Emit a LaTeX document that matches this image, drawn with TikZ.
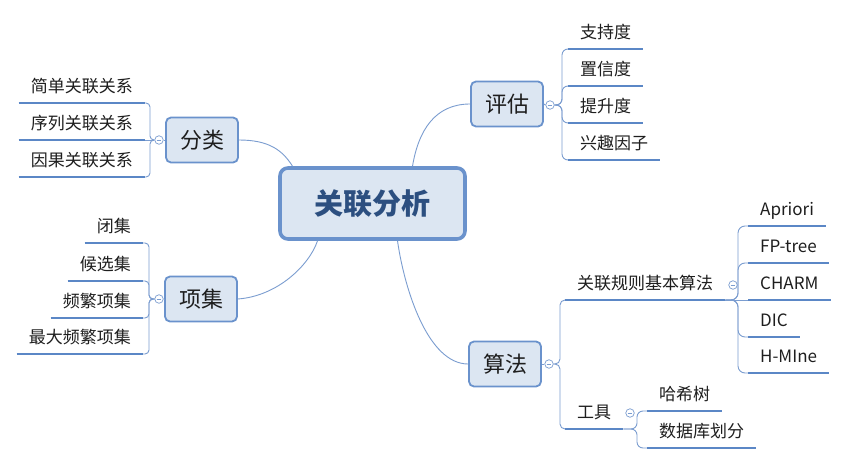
\documentclass[tikz,border=0pt]{standalone}
\usepackage{fontspec}
\setmainfont{Noto Sans CJK SC}
\usetikzlibrary{calc}
\definecolor{boxc}{HTML}{6A92CC}
\definecolor{fillc}{HTML}{DCE6F2}
\definecolor{ulc}{HTML}{5B87C6}
\definecolor{connc}{HTML}{7B9DD0}
\definecolor{txtc}{HTML}{1E1E1E}
\definecolor{ctrtxt}{HTML}{2C4F80}
\begin{document}
\begin{tikzpicture}[x=1pt,y=-1pt,
  ctrbox/.style={draw=boxc, line width=3.6pt, fill=fillc, rounded corners=8pt,
    minimum width=185pt, minimum height=71pt, inner sep=0pt, text=ctrtxt,
    font=\fontsize{29}{34}\selectfont\bfseries},
  mainbox/.style={draw=boxc, line width=1.8pt, fill=fillc, rounded corners=5pt,
    minimum width=72pt, minimum height=45pt, inner sep=0pt, text=txtc,
    font=\fontsize{22}{26}\selectfont},
  leaf/.style={inner xsep=12pt, inner ysep=0pt, text height=12pt, text depth=10.5pt,
    text=txtc, font=\fontsize{17}{20}\selectfont},
  uline/.style={draw=ulc, line width=2.6pt},
  conn/.style={draw=connc, line width=0.9pt},
  collapse/.style={circle, draw=connc, fill=white, line width=0.7pt, minimum size=8.5pt,
    inner sep=0pt, path picture={\draw[connc, line width=0.6pt]
      ([xshift=-2.3pt]path picture bounding box.center) -- ([xshift=2.3pt]path picture bounding box.center);}}
]
\useasboundingbox (0,0) rectangle (853,465);
\fill[white] (0,0) rectangle (853,465);

% centre and main nodes
\node[ctrbox] (ctr) at (372.5,203.5) {关联分析};
\node[mainbox] (pg) at (507,104) {评估};
\node[mainbox] (fl) at (202,140) {分类};
\node[mainbox] (xj) at (201,299) {项集};
\node[mainbox] (sf) at (505,364) {算法};

% main connectors (xshift/yshift are in page direction: +y is up)
\draw[conn] (pg.west) .. controls +(-35,0) and ([xshift=46,yshift=36]ctr.north) .. ([xshift=40]ctr.north);
\draw[conn] (fl.east) .. controls +(30,0) and ([xshift=-90,yshift=16]ctr.north) .. ([xshift=-80]ctr.north);
\draw[conn] (xj.east) .. controls +(40,-3) and ([xshift=-63,yshift=-24]ctr.south) .. ([xshift=-55]ctr.south);
\draw[conn] (sf.west) .. controls +(-40,0) and ([xshift=32,yshift=-49]ctr.south) .. ([xshift=25]ctr.south);

% collapse markers
\node[collapse] (cpg) at (550,105) {};
\node[collapse] (cfl) at (159,140) {};
\node[collapse] (cxj) at (159,299) {};
\node[collapse] (csf) at (549,364) {};
\draw[conn] (pg.east) -- (cpg.west);
\draw[conn] (fl.west) -- (cfl.east);
\draw[conn] (xj.west) -- (cxj.east);
\draw[conn] (sf.east) -- (csf.west);

% 评估 leaves
\node[leaf, anchor=south west] (a1) at (568,49) {支持度};
\node[leaf, anchor=south west] (a2) at (568,86) {置信度};
\node[leaf, anchor=south west] (a3) at (568,123) {提升度};
\node[leaf, anchor=south west] (a4) at (568,160) {兴趣因子};
\foreach \l in {a1,a2,a3,a4}{
  \draw[uline] (\l.south west) -- (\l.south east);
  \draw[conn, rounded corners=6pt] (cpg.east) -| ($(\l.south west)+(-6,0)$) -- (\l.south west);
}

% 分类 leaves
\node[leaf, anchor=south east] (b1) at (145,103) {简单关联关系};
\node[leaf, anchor=south east] (b2) at (145,140) {序列关联关系};
\node[leaf, anchor=south east] (b3) at (145,177) {因果关联关系};
\foreach \l in {b1,b2,b3}{\draw[uline] (\l.south west) -- (\l.south east);}
\foreach \l in {b1,b3}{
  \draw[conn, rounded corners=4pt] (cfl.west) -| ($(\l.south east)+(5,0)$) -- (\l.south east);
}
\draw[conn] (cfl.west) -- (b2.south east);

% 项集 leaves
\node[leaf, anchor=south east] (c1) at (143,243) {闭集};
\node[leaf, anchor=south east] (c2) at (143,281) {候选集};
\node[leaf, anchor=south east] (c3) at (143,318) {频繁项集};
\node[leaf, anchor=south east] (c4) at (143,354) {最大频繁项集};
\foreach \l in {c1,c2,c3,c4}{
  \draw[uline] (\l.south west) -- (\l.south east);
  \draw[conn, rounded corners=4pt] (cxj.west) -| ($(\l.south east)+(6,0)$) -- (\l.south east);
}

% 算法 children
\node[leaf, anchor=south west] (r1) at (565,300) {关联规则基本算法};
\node[leaf, anchor=south west] (r2) at (565,429) {工具};
\foreach \l in {r1,r2}{
  \draw[uline] (\l.south west) -- (\l.south east);
  \draw[conn, rounded corners=5pt] (csf.east) -| ($(\l.south west)+(-5,0)$) -- (\l.south west);
}
\node[collapse] (cr1) at (733,285) {};
\node[collapse] (cr2) at (630,413) {};

% 关联规则基本算法 leaves
\node[leaf, anchor=south west] (d1) at (748,226) {Apriori};
\node[leaf, anchor=south west] (d2) at (748,263) {FP-tree};
\node[leaf, anchor=south west] (d3) at (748,300) {CHARM};
\node[leaf, anchor=south west] (d4) at (748,337) {DIC};
\node[leaf, anchor=south west] (d5) at (748,373) {H-MIne};
\foreach \l in {d1,d2,d3,d4,d5}{\draw[uline] (\l.south west) -- (\l.south east);}
\foreach \l in {d1,d2,d4,d5}{
  \draw[conn, rounded corners=7pt] (r1.south east) -| ($(\l.south west)+(-10,0)$) -- (\l.south west);
}
\draw[conn] (r1.south east) -- (d3.south west);

% 工具 leaves
\node[leaf, anchor=south west] (e1) at (647,411) {哈希树};
\node[leaf, anchor=south west] (e2) at (647,448) {数据库划分};
\foreach \l in {e1,e2}{
  \draw[uline] (\l.south west) -- (\l.south east);
  \draw[conn, rounded corners=6pt] (r2.south east) -| ($(\l.south west)+(-10,0)$) -- (\l.south west);
}
\end{tikzpicture}
\end{document}
